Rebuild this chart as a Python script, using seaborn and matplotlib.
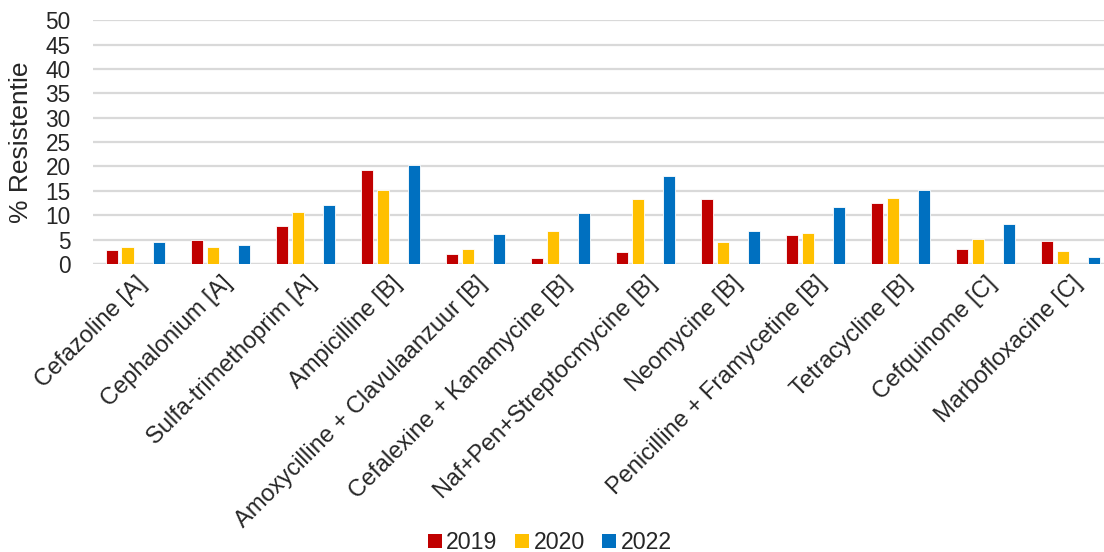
import numpy as np
import pandas as pd
import seaborn as sns
import matplotlib.pyplot as plt
from matplotlib.patches import Patch

antibiotica = ["Cefazoline [A]", "Cephalonium [A]", "Sulfa-trimethoprim [A]", "Ampicilline [B]",
               "Amoxycilline + Clavulaanzuur [B]", "Cefalexine + Kanamycine [B]",
               "Naf+Pen+Streptocmycine [B]", "Neomycine [B]", "Penicilline + Framycetine [B]",
               "Tetracycline [B]", "Cefquinome [C]", "Marbofloxacine [C]"]
res_2019 = [2.8, 4.8, 7.8, 19.3, 2.0, 1.2, 2.5, 13.3, 5.9, 12.6, 3.0, 4.7]
res_2020 = [3.4, 3.4, 10.6, 15.2, 3.0, 6.8, 13.4, 4.4, 6.3, 13.5, 5.1, 2.7]
res_2022 = [4.4, 3.9, 12.0, 20.4, 6.1, 10.4, 18.1, 6.8, 11.6, 15.2, 8.1, 1.5]
jaren = ["2019", "2020", "2022"]
kleuren = {"2019": "#C00000", "2020": "#FFC000", "2021": "#FFFFFF", "2022": "#0070C0"}

df = pd.DataFrame({
    "Antibioticum": antibiotica * 3,
    "Jaar": np.repeat(jaren, len(antibiotica)),
    "Resistentie": res_2019 + res_2020 + res_2022,
})

sns.set_style("white")
plt.rcParams["font.family"] = ["Liberation Sans", "DejaVu Sans"]

fig = plt.figure(figsize=(11.04, 5.52), dpi=100)
ax = fig.add_axes([0.0842, 0.522, 0.924, 0.441])

# 2021 is in the hue order but has no data, so its slot stays empty
sns.barplot(ax=ax, data=df, x="Antibioticum", y="Resistentie", hue="Jaar",
            hue_order=["2019", "2020", "2021", "2022"], palette=kleuren,
            saturation=1, width=0.73, gap=0.2, edgecolor="white", linewidth=0.6,
            legend=False, order=antibiotica)

ax.set_ylim(0, 50)
ax.set_xlim(-0.5, len(antibiotica) - 0.5)
ax.set_yticks(range(0, 51, 5))
ax.yaxis.grid(True, color="#D9D9D9", linewidth=1.6)
ax.set_axisbelow(True)
for s in ax.spines.values():
    s.set_visible(False)
ax.axhline(0, color="#D9D9D9", linewidth=1.6, zorder=0.5)
ax.tick_params(axis="y", length=0, labelsize=16.3, pad=16)
ax.tick_params(axis="x", length=0, labelsize=17, pad=6)
plt.setp(ax.get_xticklabels(), rotation=45, ha="right", rotation_mode="anchor")
ax.set_xlabel("")
ax.set_ylabel("% Resistentie", fontsize=19)
ax.yaxis.set_label_coords(-0.059, 0.5)

handles = [Patch(facecolor=kleuren[j], edgecolor="none") for j in jaren]
fig.legend(handles, jaren, loc="center", bbox_to_anchor=(0.498, 0.017), ncol=3,
           frameon=False, fontsize=16.7, handlelength=0.6, handleheight=0.6,
           handletextpad=0.2, columnspacing=0.75)

fig.savefig("out.png", dpi=100)
